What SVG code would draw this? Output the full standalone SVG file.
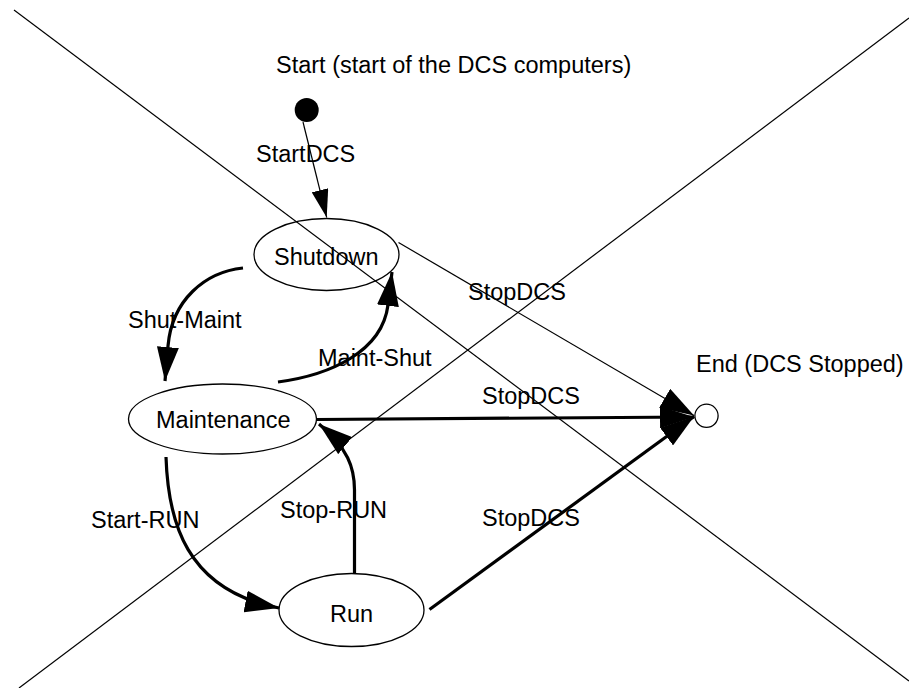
<svg xmlns="http://www.w3.org/2000/svg" width="909" height="688" viewBox="0 0 909 688">
<style>
text{font-family:"Liberation Sans",Arial,sans-serif;font-size:23.5px;fill:#000}
.node{fill:#fff;stroke:#000;stroke-width:1.3}
.thin{fill:none;stroke:#000;stroke-width:1.2}
.thick{fill:none;stroke:#000;stroke-width:3.2}
.cross{fill:none;stroke:#000;stroke-width:1.2}
</style>
<defs>
<marker id="ahThick" markerUnits="userSpaceOnUse" viewBox="0 0 34 22" markerWidth="34" markerHeight="22" refX="34" refY="11" orient="auto">
<path d="M0,0 L34,11 L0,22 z" fill="#000"/>
</marker>
<marker id="ahThin" markerUnits="userSpaceOnUse" viewBox="0 0 28 17" markerWidth="28" markerHeight="17" refX="28" refY="8.5" orient="auto">
<path d="M0,0 L28,8.5 L0,17 z" fill="#000"/>
</marker>
</defs>
<rect width="909" height="688" fill="#fff"/>
<g id="connectors">
<path class="thin" d="M303,122 L326.7,217.5" marker-end="url(#ahThin)"/>
<path class="thick" d="M243,268 C205,272 172,300 168,346 L165,381" marker-end="url(#ahThick)"/>
<path class="thick" d="M278,382 C330,375 382,352 388,305 L392,272" marker-end="url(#ahThick)"/>
<path class="thick" d="M166,457 C168,520 185,590 279,608" marker-end="url(#ahThick)"/>
<path class="thick" d="M354.5,573 L354.5,490 C354.5,468 348,448 319,424" marker-end="url(#ahThick)"/>
<path class="thin" d="M398.5,242.5 L694,415.5" marker-end="url(#ahThick)"/>
<path class="thick" d="M317,419.5 L694,417" marker-end="url(#ahThick)"/>
<path class="thick" d="M429.5,609.5 L694,416.5" marker-end="url(#ahThick)"/>
<text x="256" y="162">StartDCS</text>
<text x="128" y="328">Shut-Maint</text>
<text x="318" y="366">Maint-Shut</text>
<text x="91" y="528">Start-RUN</text>
<text x="280" y="518">Stop-RUN</text>
<text x="468" y="300">StopDCS</text>
<text x="482" y="404">StopDCS</text>
<text x="482" y="526">StopDCS</text>
</g>
<g id="start">
<circle cx="306.7" cy="110" r="12" fill="#000"/>
<text x="276" y="73">Start (start of the DCS computers)</text>
</g>
<g id="shutdown">
<ellipse class="node" cx="326.5" cy="254.5" rx="72.5" ry="36"/>
<text x="274" y="265">Shutdown</text>
</g>
<g id="maintenance">
<ellipse class="node" cx="222.5" cy="419" rx="94" ry="35"/>
<text x="156" y="428">Maintenance</text>
</g>
<g id="run">
<ellipse class="node" cx="351.5" cy="610" rx="72.5" ry="36.5"/>
<text x="330" y="622">Run</text>
</g>
<g id="end">
<circle cx="706.5" cy="415.8" r="11.6" fill="#fff" stroke="#000" stroke-width="1.3"/>
<text x="696" y="372">End (DCS Stopped)</text>
</g>
<g id="crossout">
<line class="cross" x1="14" y1="10" x2="909" y2="681"/>
<line class="cross" x1="909" y1="18" x2="19" y2="688"/>
</g>
</svg>
